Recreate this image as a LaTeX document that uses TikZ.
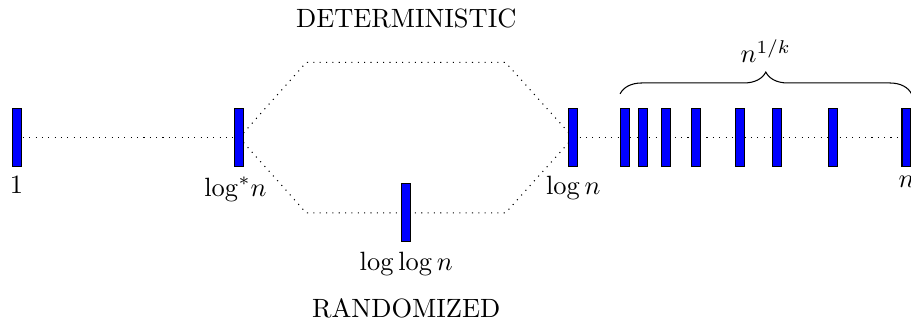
\documentclass[tikz,border=0pt]{standalone}
\usetikzlibrary{decorations.pathreplacing,backgrounds}
\tikzstyle{bar}=[draw, fill=blue, inner sep=0pt, minimum width=0.12cm, minimum height=0.77cm]
\tikzstyle{range line}=[dotted]

\begin{document}
\begin{tikzpicture}
  \useasboundingbox (-0.22,-2.42) rectangle (11.89,1.83);
  % bars
  \node[bar, label=below:$1$] (one) at (0,0) {};
  \node[bar, label={[xshift=-0.05cm]below:$\log^*\!n$}] (logstar) at (2.96,0) {};
  \node[bar, label=below:$\log\log n$] (loglog) at (5.18,-1) {};
  \node[bar, label=below:$\log n$] (logn) at (7.40,0) {};
  \foreach \x [count=\i] in {8.09,8.33,8.63,9.03,9.62,10.11,10.85}
    \node[bar] (b\i) at (\x,0) {};
  \node[bar, label=below:$n$] (nbar) at (11.83,0) {};
  % corners of the two routes
  \coordinate (dl) at (3.85,1);
  \coordinate (dr) at (6.50,1);
  \coordinate (rl) at (3.85,-1);
  \coordinate (rr) at (6.50,-1);
  \begin{scope}[on background layer]
    \draw[range line] (one.center) -- (logstar.center);
    \draw[range line] (logstar.center) -- (dl) -- (dr) -- (logn.center);
    \draw[range line] (logstar.center) -- (rl) -- (loglog.center) -- (rr) -- (logn.center);
    \draw[range line] (logn.center) -- (nbar.center);
  \end{scope}
  \node (det) at (5.18,1.58) {DETERMINISTIC};
  \node (rand) at (5.18,-2.27) {RANDOMIZED};
  \draw[decorate, decoration={brace, amplitude=0.29cm}]
    ([yshift=0.19cm]b1.north west) -- ([yshift=0.19cm]nbar.north east)
    node[midway, above=0.29cm] (nk) {$n^{1/k}$};
\end{tikzpicture}
\end{document}
